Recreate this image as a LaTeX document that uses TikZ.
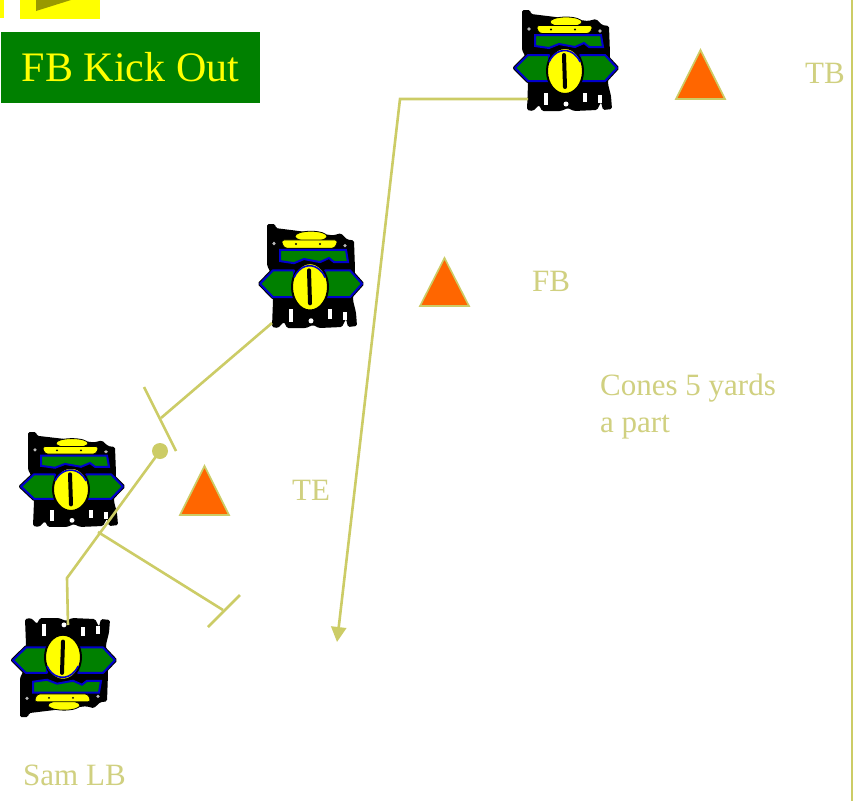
\documentclass[tikz,border=0pt]{standalone}
\usepackage{fontspec}
\setmainfont{Liberation Serif}
\usetikzlibrary{arrows.meta}
\definecolor{khaki}{RGB}{204,204,102}
\definecolor{labelc}{RGB}{208,208,128}
\definecolor{cone}{RGB}{255,102,0}
\definecolor{titlegreen}{RGB}{0,128,0}
\definecolor{hatgold}{RGB}{255,255,0}
\definecolor{olivemark}{RGB}{153,153,0}
\definecolor{jersey}{RGB}{0,128,0}
\definecolor{trim}{RGB}{0,0,205}
\tikzset{
  conemark/.style={fill=cone, draw=khaki, line width=1.6pt, line join=miter},
  tag/.style={text=labelc, font=\fontsize{31}{37}\selectfont, inner sep=0pt},
  titlebox/.style={fill=titlegreen, text=hatgold, font=\fontsize{42}{48}\selectfont,
    minimum width=259pt, minimum height=71pt, inner sep=0pt},
  route/.style={draw=khaki, line width=2.6pt, line join=miter},
  blockbar/.style={draw=khaki, line width=2.6pt},
  % a football player icon, about 107 x 100 units, origin at its top left, y downwards
  player/.pic={
    % dark body
    \fill[black, rounded corners=1.5pt]
      (10,0) -- (18,0) -- (19,4) -- (76,11) -- (84,9) -- (90,15) -- (97,16)
      -- (98,44) -- (96,74) -- (99,86) -- (100,99) -- (91,100) -- (89,92)
      -- (85,100) -- (62,101) -- (56,98) -- (49,101) -- (30,101) -- (27,95)
      -- (21,101) -- (15,100) -- (16,74) -- (13,46) -- (10,40) -- cycle;
    % jersey band
    \filldraw[fill=jersey, draw=trim, line width=2pt]
      (23,25) -- (89,25) -- (91,37) -- (77,37) -- (72,33) -- (63,37)
      -- (47,34) -- (37,38) -- (23,36) -- cycle;
    % helmet
    \filldraw[fill=hatgold, draw=black, line width=0.8pt] (54,12) ellipse [x radius=16pt, y radius=5pt];
    \filldraw[fill=hatgold, draw=black, line width=0.8pt, rounded corners=3pt]
      (24,15.5) -- (81,15.5) -- (78,23.5) -- (27,23.5) -- cycle;
    \fill[black] (39,19.5) circle [radius=1.1pt] (63,19.5) circle [radius=1.1pt];
    % arms, dark rim first, blue trim on top
    \foreach \rim/\lw in {black/4pt, trim/2pt}{
      \filldraw[fill=jersey, draw=\rim, line width=\lw, line join=round]
        (37,45) -- (16,45) -- (3,58) -- (16,71) -- (37,71) -- cycle;
      \filldraw[fill=jersey, draw=\rim, line width=\lw, line join=round]
        (68,45) -- (93,45) -- (105,58) -- (93,71) -- (68,71) -- cycle;
    }
    % ball
    \filldraw[fill=hatgold, draw=black, line width=2pt]
      (53,61) ellipse [x radius=18pt, y radius=23pt];
    \draw[trim, line width=1.6pt] (37,52) arc [start angle=150, end angle=30, x radius=18pt, y radius=23pt];
    \draw[black, line width=4pt, line cap=round] (52,45) -- (53,77);
    % legs
    \fill[white] (32,83) rectangle (36,95);
    \fill[white] (54,94) circle [radius=2.5pt];
    \fill[white] (71,83) rectangle (75,92);
    \fill[white] (86,85) rectangle (90,93);
    % highlights
    \fill[gray!55] (17,19) circle [radius=1.8pt];
    \fill[gray!55] (88,21) circle [radius=1.8pt];
  }
}
\begin{document}
\begin{tikzpicture}[x=1pt, y=-1pt]
  \useasboundingbox (0,0) rectangle (856,801);
  \fill[white] (0,0) rectangle (856,801);

  % corner tabs
  \fill[hatgold] (0,0) rectangle (3.5,18);
  \fill[hatgold] (20,0) rectangle (100,19);
  \fill[olivemark] (36,0) -- (36,11) -- (71,0) -- cycle;

  % title
  \node[titlebox] (title) at (130.5,67.5) {FB Kick Out};

  % right border rule
  \coordinate (ruletop) at (852,0);
  \coordinate (rulebot) at (852,801);
  \draw[khaki, line width=2.5pt] (ruletop) -- (rulebot);

  % players
  \pic[shift={(512,10)}] {player};
  \pic[shift={(257,224)}, yscale=1.03] {player};
  \pic[shift={(18,432)}, yscale=0.94] {player};
  \pic[shift={(10,717)}, yscale=-0.98] {player};

  % route and block points
  \coordinate (tbfoot) at (528,99);
  \coordinate (tbturn) at (400,99);
  \coordinate (tbdrop) at (337,642);
  \coordinate (fbfoot) at (272,323);
  \coordinate (fbhit) at (161,418);
  \coordinate (fbbarA) at (144,387);
  \coordinate (fbbarB) at (176,451);
  \coordinate (samhead) at (68,625);
  \coordinate (samup) at (67,578);
  \coordinate (samdot) at (160,451);
  \coordinate (tefoot) at (98,532);
  \coordinate (tehit) at (223,610);
  \coordinate (tebarA) at (240,595);
  \coordinate (tebarB) at (208,627);

  % connectors
  \draw[route, -{Triangle[length=15pt, width=15pt]}] (tbfoot) -- (tbturn) -- (tbdrop);
  \draw[route] (fbfoot) -- (fbhit);
  \draw[blockbar] (fbbarA) -- (fbbarB);
  \draw[route] (samhead) -- (samup) -- (samdot);
  \fill[khaki] (samdot) circle [radius=8pt];
  \draw[route] (tefoot) -- (tehit);
  \draw[blockbar] (tebarA) -- (tebarB);

  % cones
  \filldraw[conemark] (676,99) -- (725,99) -- (700.5,50) -- cycle;
  \filldraw[conemark] (420,306) -- (469,306) -- (444.5,258) -- cycle;
  \filldraw[conemark] (180,515) -- (229,515) -- (204.5,466) -- cycle;

  % labels
  \node[tag, anchor=base west] (tbtag) at (805,83) {TB};
  \node[tag, anchor=base west] (fbtag) at (532,291) {FB};
  \node[tag, anchor=base west] (tetag) at (292,500) {TE};
  \node[tag, anchor=base west] (conesA) at (600,395) {Cones 5 yards};
  \node[tag, anchor=base west] (conesB) at (600,432) {a part};
  \node[tag, anchor=base west] (samtag) at (23,785) {Sam LB};
\end{tikzpicture}
\end{document}
